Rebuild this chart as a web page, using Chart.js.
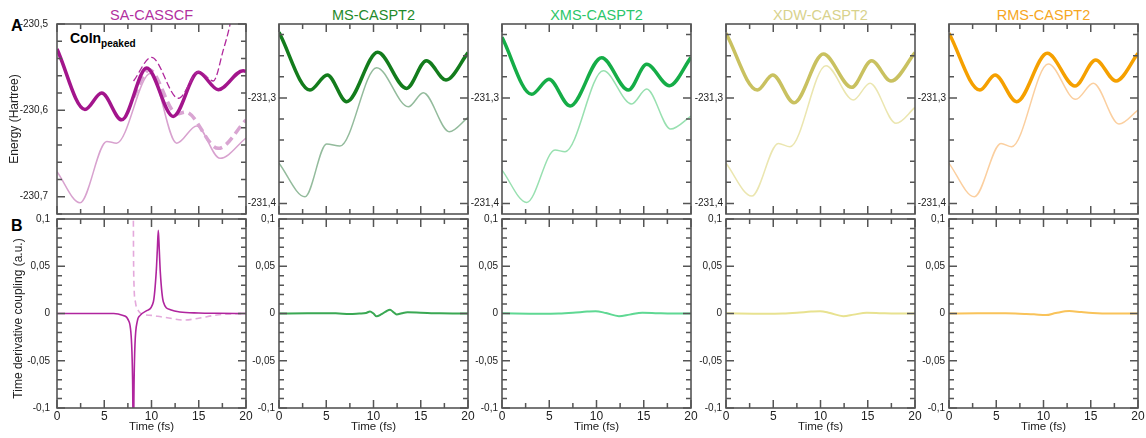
<!DOCTYPE html>
<html>
<head>
<meta charset="utf-8">
<script src="https://cdn.jsdelivr.net/npm/chart.js@4.4.1/dist/chart.umd.min.js"></script>
<style>
  body { margin: 0; background: #fff; font-family: "Liberation Sans", Arial, Helvetica, sans-serif; }
  #fig { position: relative; width: 1146px; height: 438px; overflow: hidden; background: #fff; }
  #fig canvas { position: absolute; }
  .lbl { position: absolute; white-space: nowrap; line-height: 1; }
  .ttl { position: absolute; text-align: center; font-size: 14.5px; line-height: 1; top: 8px; }
</style>
</head>
<body>
<div id="fig">
  <div class="lbl" style="left:11px;top:18px;font-weight:bold;font-size:16px;">A</div>
  <div class="lbl" style="left:11px;top:218px;font-weight:bold;font-size:16px;">B</div>
  <div class="lbl" style="left:70px;top:31px;font-weight:bold;font-size:14px;">CoIn<span style="font-size:10px;vertical-align:-4px;">peaked</span></div>
</div>
<script>
// method names shown above each column
const methods = ['SA-CASSCF', 'MS-CASPT2', 'XMS-CASPT2', 'XDW-CASPT2', 'RMS-CASPT2'];

// ---- energies (Hartree) vs time (fs) ----
// SA-CASSCF
const saUpperTime = [0, 2.96, 4.73, 6.84, 9.49, 12.3, 14.95, 17.07, 19.7, 20];
const saUpper = [-230.529, -230.599, -230.580, -230.611, -230.551, -230.607, -230.556, -230.576, -230.554, -230.555];
const saLowerTime = [0, 2.43, 5.26, 6.3, 9.9, 12.67, 14.78, 17.25, 20];
const saLower = [-230.671, -230.707, -230.636, -230.638, -230.557, -230.638, -230.618, -230.6555, -230.632];
const saHopUpperTime = [8.1, 10.0, 12.84, 15.03, 16.54, 17.6, 18.3, 18.8];
const saHopUpper = [-230.566, -230.5386, -230.586, -230.555, -230.566, -230.530, -230.501, -230.47];
const saHopLowerTime = [8.1, 9.77, 12.7, 13.6, 17.07, 20];
const saHopLower = [-230.585, -230.553, -230.604, -230.602, -230.644, -230.611];
// MS-CASPT2
const msUpperTime = [0, 3.28, 5.11, 7.16, 10.44, 13.5, 15.6, 17.67, 20];
const msUpper = [-231.238, -231.2926, -231.2783, -231.3036, -231.2568, -231.291, -231.2648, -231.2831, -231.2572];
const msLowerTime = [0, 2.75, 5.04, 6.45, 10.33, 13.69, 15.27, 18.02, 20];
const msLower = [-231.362, -231.3937, -231.3437, -231.3456, -231.2714, -231.3084, -231.2951, -231.332, -231.3184];
// XMS-CASPT2
const xmsUpperTime = [0, 3.14, 4.97, 7.2, 10.55, 13.37, 15.31, 17.71, 20];
const xmsUpper = [-231.2426, -231.2966, -231.2824, -231.3077, -231.2619, -231.2926, -231.2682, -231.2885, -231.2616];
const xmsLowerTime = [0, 2.61, 5.61, 6.67, 10.72, 13.72, 15.31, 17.85, 20];
const xmsLower = [-231.3684, -231.399, -231.3494, -231.351, -231.2743, -231.3058, -231.2916, -231.3295, -231.3172];
// XDW-CASPT2
const xdwUpperTime = [0, 3.32, 4.94, 7.2, 10.3, 13.3, 15.41, 17.46, 20];
const xdwUpper = [-231.2388, -231.2926, -231.2783, -231.3046, -231.2584, -231.29, -231.2648, -231.284, -231.2572];
const xdwLowerTime = [0, 2.72, 5.54, 6.77, 10.58, 13.47, 15.24, 17.99, 20];
const xdwLower = [-231.362, -231.393, -231.3431, -231.3463, -231.2695, -231.302, -231.2862, -231.3241, -231.309];
// RMS-CASPT2
const rmsUpperTime = [0, 3.28, 4.87, 7.16, 10.4, 13.33, 15.52, 17.67, 20];
const rmsUpper = [-231.2388, -231.2926, -231.2783, -231.3036, -231.2578, -231.2888, -231.2641, -231.284, -231.2578];
const rmsLowerTime = [0, 2.68, 5.5, 6.63, 10.51, 13.41, 15.27, 17.99, 20];
const rmsLower = [-231.362, -231.3937, -231.3431, -231.3463, -231.2679, -231.3014, -231.2862, -231.3248, -231.3115];

// ---- time derivative coupling (a.u.) ----
const saTdcTime = [0, 2, 4, 6, 7, 7.55, 7.9, 8.0, 8.08, 8.16, 8.25, 8.5, 8.8, 9.5, 10.2, 10.5, 10.62, 10.72, 10.82, 10.93, 11.25, 12.0, 13, 15, 17, 20];
const saTdc = [0, 0, 0, 0, -0.002, -0.007, -0.033, -0.07, -0.14, -0.07, -0.033, -0.008, -0.002, 0.003, 0.0125, 0.044, 0.068, 0.088, 0.068, 0.044, 0.0125, 0.004, 0.0015, 0.0005, 0.0002, 0];
const saHopTdcTime = [8.07, 8.1, 8.15, 8.3, 8.6, 9.1, 10, 11, 12, 13.4, 15, 16.9, 18.5, 20];
const saHopTdc = [0.13, 0.06, 0.03, 0.012, 0.003, -0.001, -0.002, -0.0035, -0.005, -0.007, -0.005, -0.0016, -0.0004, 0];
const msTdcTime = [0, 3, 6, 7.5, 8.5, 9.2, 9.63, 10.0, 10.33, 10.8, 11.3, 11.75, 12.1, 12.45, 13.0, 13.6, 15, 17, 20];
const msTdc = [0, 0.0003, 0.0002, -0.0005, 0, 0.0005, 0.0022, 0, -0.003, -0.001, 0.002, 0.004, 0.0015, -0.001, 0.0003, 0.0012, 0.0008, 0.0002, 0];
const xmsTdcTime = [0, 4, 6, 7.5, 9, 9.9, 11, 12.38, 13.5, 14.85, 16.5, 18, 20];
const xmsTdc = [0.0002, -0.0002, 0, 0.0008, 0.002, 0.0025, 0.0005, -0.0028, -0.0012, 0.0008, 0.0003, 0, 0];
const xdwTdcTime = [0, 4, 6, 7.5, 9, 9.95, 11, 12.41, 13.5, 14.9, 16.5, 18, 20];
const xdwTdc = [0.0002, -0.0002, 0, 0.0008, 0.002, 0.0025, 0.0005, -0.0028, -0.0012, 0.0008, 0.0003, 0, 0];
const rmsTdcTime = [0, 3, 6, 8, 9, 10.26, 11.3, 12.73, 14, 15.2, 17, 20];
const rmsTdc = [0, 0.0002, 0.0002, -0.0004, -0.0008, -0.0017, 0.0005, 0.0026, 0.0015, 0.0006, 0, 0];

// axis ranges
const saEnergyRange = [-230.72, -230.5];
const pt2EnergyRange = [-231.41, -231.23];
const tdcRange = [-0.1, 0.1];
const timeRange = [0, 20];

const FONT = '"Liberation Sans", Arial, Helvetica, sans-serif';
const FRAME = '#555';
const plotLefts = [57, 279, 502, 726, 949];
const plotW = 189;
const fig = document.getElementById('fig');

const pts = (ts, vs) => ts.map((t, i) => ({ x: t, y: vs[i] }));
const fmt = v => (Math.round(v * 1000) / 1000).toString().replace('.', ',');

function stepTicks(min, max, step, majorEvery) {
  const out = [];
  for (let k = Math.ceil(min / step - 1e-9); k <= Math.floor(max / step + 1e-9); k++) {
    const v = Math.round(k * step * 1e6) / 1e6;
    const q = v / majorEvery;
    out.push({ value: v, major: Math.abs(q - Math.round(q)) < 1e-6 });
  }
  return out;
}

// box frame with inward ticks on all four sides
const framePlugin = {
  id: 'frame',
  afterDatasetsDraw(chart) {
    const { ctx, chartArea: a, scales: { x, y } } = chart;
    ctx.save();
    ctx.strokeStyle = FRAME;
    ctx.lineWidth = 1.5;
    ctx.beginPath();
    x.ticks.forEach(t => {
      const px = x.getPixelForValue(t.value);
      const len = t.major ? 8 : 5;
      ctx.moveTo(px, a.bottom); ctx.lineTo(px, a.bottom - len);
      ctx.moveTo(px, a.top); ctx.lineTo(px, a.top + len);
    });
    y.ticks.forEach(t => {
      const py = y.getPixelForValue(t.value);
      const len = t.major ? 8 : 5;
      ctx.moveTo(a.left, py); ctx.lineTo(a.left + len, py);
      ctx.moveTo(a.right, py); ctx.lineTo(a.right - len, py);
    });
    ctx.stroke();
    ctx.lineWidth = 1.6;
    ctx.strokeRect(a.left, a.top, a.right - a.left, a.bottom - a.top);
    ctx.restore();
  }
};

function line(data, color, width, dash) {
  return { data, borderColor: color, borderWidth: width, borderDash: dash || [],
           fill: false, pointRadius: 0, clip: 0, cubicInterpolationMode: 'monotone' };
}

function panel(col, row, datasets, yRange, yStep, yMajor, yLabelFont, yLabelPad, yTitle) {
  const bottomRow = row === 1;
  const plotTop = bottomRow ? 219 : 24;
  const plotH = bottomRow ? 189 : 190;
  const padTop = 20, padRight = 14, axisW = 57;
  const xAxisH = bottomRow ? 30 : 0;
  const padBottom = bottomRow ? 0 : 20;

  const canvas = document.createElement('canvas');
  canvas.width = axisW + plotW + padRight;
  canvas.height = padTop + plotH + xAxisH + padBottom;
  canvas.style.left = (plotLefts[col] - axisW) + 'px';
  canvas.style.top = (plotTop - padTop) + 'px';
  fig.appendChild(canvas);

  new Chart(canvas, {
    type: 'line',
    data: { datasets },
    options: {
      responsive: false,
      animation: false,
      events: [],
      layout: { padding: { left: 0, top: padTop, right: padRight, bottom: padBottom } },
      plugins: { legend: { display: false }, tooltip: { enabled: false } },
      scales: {
        x: {
          type: 'linear', min: timeRange[0], max: timeRange[1],
          grid: { display: false, drawTicks: false }, border: { display: false },
          afterBuildTicks: s => { s.ticks = stepTicks(timeRange[0], timeRange[1], 2.5, 5); },
          afterFit: s => { s.height = xAxisH; },
          ticks: {
            display: bottomRow, autoSkip: false, maxRotation: 0, padding: 1, color: '#222',
            font: { family: FONT, size: 12 },
            callback: (v, i, ticks) => ticks[i].major ? fmt(v) : ''
          },
          title: {
            display: bottomRow, text: 'Time (fs)', color: '#222',
            font: { family: FONT, size: 11.5 }, padding: { top: 0, bottom: 4 }
          }
        },
        y: {
          type: 'linear', min: yRange[0], max: yRange[1],
          grid: { display: false, drawTicks: false }, border: { display: false },
          afterBuildTicks: s => { s.ticks = stepTicks(yRange[0], yRange[1], yStep, yMajor); },
          afterFit: s => { s.width = axisW; },
          ticks: {
            autoSkip: false, padding: yLabelPad, color: '#222',
            font: { family: FONT, size: yLabelFont },
            callback: (v, i, ticks) => ticks[i].major ? fmt(v) : ''
          },
          title: yTitle ? {
            display: true, text: yTitle.text, color: '#222',
            font: { family: FONT, size: yTitle.size }, padding: { top: yTitle.pad, bottom: 0 }
          } : { display: false }
        }
      }
    },
    plugins: [framePlugin]
  });
}

// column headers
const titleColors = ['#b2309f', '#1f8a2a', '#2bc66a', '#d8d28c', '#f6a623'];
methods.forEach((m, i) => {
  const d = document.createElement('div');
  d.className = 'ttl';
  d.style.left = plotLefts[i] + 'px';
  d.style.width = plotW + 'px';
  d.style.color = titleColors[i];
  d.textContent = m;
  fig.appendChild(d);
});

// row A: energies
const energyTitle = { text: 'Energy (Hartree)', size: 12, pad: 7 };
panel(0, 0, [
  line(pts(saHopUpperTime, saHopUpper), '#b0289c', 1.3, [7, 3]),
  line(pts(saUpperTime, saUpper), '#a3158c', 3.5),
  line(pts(saHopLowerTime, saHopLower), '#d9a5d2', 3.5, [9, 5]),
  line(pts(saLowerTime, saLower), '#d8a2cf', 1.5)
], saEnergyRange, 0.02, 0.1, 10, 9, energyTitle);

const pt2Energies = [
  [msUpperTime, msUpper, msLowerTime, msLower, '#137c1c', '#93bb9c'],
  [xmsUpperTime, xmsUpper, xmsLowerTime, xmsLower, '#15ad47', '#98e0b0'],
  [xdwUpperTime, xdwUpper, xdwLowerTime, xdwLower, '#c9c160', '#ebe6b0'],
  [rmsUpperTime, rmsUpper, rmsLowerTime, rmsLower, '#f5a000', '#fbcf9f']
];
pt2Energies.forEach((e, i) => {
  panel(i + 1, 0, [
    line(pts(e[0], e[1]), e[4], 3.5),
    line(pts(e[2], e[3]), e[5], 1.5)
  ], pt2EnergyRange, 0.02, 0.1, 10, 3);
});

// row B: time derivative couplings
const tdcTitle = { text: 'Time derivative coupling (a.u.)   ', size: 12, pad: 11 };
panel(0, 1, [
  line(pts(saTdcTime, saTdc), '#b0259e', 1.6),
  line(pts(saHopTdcTime, saHopTdc), '#e4a9dc', 1.6, [6, 4])
], tdcRange, 0.01, 0.05, 10, 7, tdcTitle);

const pt2Couplings = [
  [msTdcTime, msTdc, '#3aa853'],
  [xmsTdcTime, xmsTdc, '#5fd893'],
  [xdwTdcTime, xdwTdc, '#e8e290'],
  [rmsTdcTime, rmsTdc, '#f9c35a']
];
pt2Couplings.forEach((c, i) => {
  panel(i + 1, 1, [line(pts(c[0], c[1]), c[2], 2)], tdcRange, 0.01, 0.05, 10, 4);
});
</script>
</body>
</html>
